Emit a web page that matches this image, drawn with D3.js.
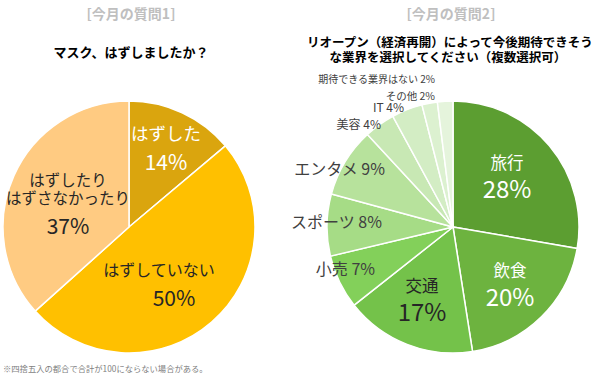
<!DOCTYPE html>
<html>
<head>
<meta charset="utf-8">
<title>今月の質問</title>
<script src="https://cdn.jsdelivr.net/npm/d3@7/dist/d3.min.js"></script>
<style>
  body { margin: 0; background: #fff; }
  text { font-family: "Noto Sans CJK JP", "Noto Sans", sans-serif; }
</style>
</head>
<body>
<script>
// data - question 1
var q1Labels = ["はずした", "はずしていない", "はずしたり\nはずさなかったり"];
var q1Values = [14, 50, 37];
var q1Colors = ["#DAA50E", "#FFC000", "#FFCB82"];

// data - question 2
var q2Labels = ["旅行", "飲食", "交通", "小売", "スポーツ", "エンタメ", "美容", "IT", "その他", "期待できる業界はない"];
var q2Values = [28, 20, 17, 7, 8, 9, 4, 4, 2, 2];
var q2Colors = ["#5C9E31", "#6DB33F", "#74C24A", "#83D05A", "#A6DC86", "#B7E29C", "#C8E8B4", "#D3EDC4", "#DCF1D0", "#E5F4DC"];

var width = 600, height = 383, R = 126;

var svg = d3.select("body").append("svg")
  .attr("width", width)
  .attr("height", height);

// headings
svg.append("text").attr("x", 131).attr("y", 19).attr("text-anchor", "middle")
  .style("font-size", "14px").style("font-weight", "bold").attr("fill", "#BFBFBF")
  .text("[今月の質問1]");
svg.append("text").attr("x", 451).attr("y", 19).attr("text-anchor", "middle")
  .style("font-size", "14px").style("font-weight", "bold").attr("fill", "#BFBFBF")
  .text("[今月の質問2]");
svg.append("text").attr("x", 131).attr("y", 57).attr("text-anchor", "middle")
  .style("font-size", "13px").style("font-weight", "bold").attr("fill", "#000")
  .text("マスク、はずしましたか？");
svg.append("text").attr("x", 450).attr("y", 47).attr("text-anchor", "middle")
  .style("font-size", "12.5px").style("font-weight", "bold").attr("fill", "#000")
  .text("リオープン（経済再開）によって今後期待できそう");
svg.append("text").attr("x", 448).attr("y", 62).attr("text-anchor", "middle")
  .style("font-size", "12.5px").style("font-weight", "bold").attr("fill", "#000")
  .text("な業界を選択してください（複数選択可）");

// footnote
svg.append("text").attr("x", 3).attr("y", 372)
  .style("font-size", "8.3px").attr("fill", "#7F7F7F")
  .text("※四捨五入の都合で合計が100にならない場合がある。");

var pie = d3.pie().sort(null).value(function(d) { return d; });
var arc = d3.arc().innerRadius(0).outerRadius(R);

function drawPie(cx, cy, values, colors) {
  var g = svg.append("g").attr("transform", "translate(" + cx + "," + cy + ")");
  g.selectAll("path")
    .data(pie(values))
    .enter().append("path")
    .attr("d", arc)
    .attr("fill", function(d, i) { return colors[i]; })
    .attr("stroke", "#fff")
    .attr("stroke-width", 1.5);
  return g;
}

// left pie
var g1 = drawPie(129, 227, q1Values, q1Colors);
// label layout (offset from pie centre, name size, pct size, colour)
var q1Layout = [
  {x: 37, y: -93, ns: 17.5, ps: 21, c: "#fff"},
  {x: 30, y: 43, ns: 16, ps: 21, c: "#262626"},
  {x: -61, y: -47, ns: 15.5, ps: 21, c: "#262626"}
];
q1Labels.forEach(function(lab, i) {
  var L = q1Layout[i];
  var lines = lab.split("\n");
  lines.forEach(function(s, j) {
    g1.append("text").attr("x", L.x).attr("y", L.y + j * 18 + 6)
      .attr("text-anchor", "middle").style("font-size", L.ns + "px").attr("fill", L.c)
      .text(s);
  });
  g1.append("text").attr("x", L.x + (i == 1 ? 15 : 0)).attr("y", L.y + (lines.length - 1) * 18 + 36)
    .attr("text-anchor", "middle").style("font-size", L.ps + "px").attr("fill", L.c)
    .text(q1Values[i] + "%");
});

// right pie
var g2 = drawPie(453, 227, q2Values, q2Colors);
var q2Inside = [
  {x: 54, y: -50, c: "#fff"},
  {x: 57, y: 58, c: "#fff"},
  {x: -31, y: 73, c: "#262626"}
];
q2Inside.forEach(function(L, i) {
  g2.append("text").attr("x", L.x).attr("y", L.y - 8)
    .attr("text-anchor", "middle").style("font-size", "16.5px").attr("fill", L.c)
    .text(q2Labels[i]);
  g2.append("text").attr("x", L.x).attr("y", L.y + 21)
    .attr("text-anchor", "middle").style("font-size", "24px").attr("fill", L.c)
    .text(q2Values[i] + "%");
});
// outside labels: right edge position relative to centre, font size
var q2Outside = [
  {x: -78, y: 48, s: 16},
  {x: -71, y: 1, s: 16},
  {x: -68, y: -52, s: 16},
  {x: -72, y: -98, s: 12},
  {x: -49, y: -115, s: 12},
  {x: -18, y: -127, s: 10.5},
  {x: -18, y: -144, s: 10}
];
q2Outside.forEach(function(L, k) {
  var i = k + 3;
  g2.append("text").attr("x", L.x).attr("y", L.y)
    .attr("text-anchor", "end").style("font-size", L.s + "px").attr("fill", "#404040")
    .text(q2Labels[i] + " " + q2Values[i] + "%");
});
</script>
</body>
</html>
